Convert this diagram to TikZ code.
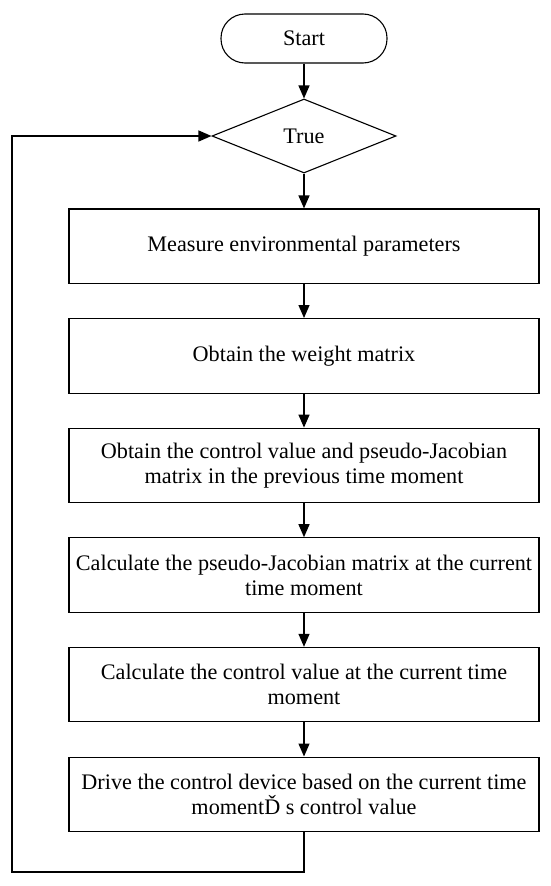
\documentclass[tikz,border=0pt]{standalone}
\usepackage{fontspec}
\setmainfont{Liberation Serif}
\usetikzlibrary{shapes.geometric,arrows.meta}

\begin{document}
\begin{tikzpicture}[x=1pt,y=-1pt,
  font=\fontsize{22.2}{25}\selectfont,
  proc/.style={draw, line width=1.1pt, minimum width=470pt, minimum height=74.5pt, align=center, inner sep=0pt},
  flow/.style={line width=1.3pt, -{Triangle[length=13pt,width=11pt]}}]
\useasboundingbox (0,0) rectangle (550,886);
% start and loop test
\node[draw, line width=1.1pt, rounded corners=24pt, minimum width=166pt, minimum height=49pt] (start) at (304,38.5) {Start};
\node[draw, line width=1.1pt, diamond, aspect=2.49, minimum width=184pt, minimum height=74pt, inner sep=0pt] (true) at (304,136) {True};
% steps
\node[proc] (measure) at (304,246.2) {Measure environmental parameters};
\node[proc] (weight) at (304,355.8) {Obtain the weight matrix};
\node[proc] (previous) at (304,465.4) {Obtain the control value and pseudo-Jacobian\\matrix in the previous time moment};
\node[proc] (jacobian) at (304,575.0) {Calculate the pseudo-Jacobian matrix at the current\\time moment};
\node[proc] (control) at (304,684.6) {Calculate the control value at the current time\\moment};
\node[proc] (drive) at (304,794.3) {Drive the control device based on the current time\\momentĎ s control value};
\draw[flow] (start) -- (true);
\draw[flow] (true) -- (measure);
\draw[flow] (measure) -- (weight);
\draw[flow] (weight) -- (previous);
\draw[flow] (previous) -- (jacobian);
\draw[flow] (jacobian) -- (control);
\draw[flow] (control) -- (drive);
% back to the test
\coordinate (back) at (12,872);
\draw[flow] (drive.south) |- (back) |- (true.west);
\end{tikzpicture}
\end{document}
